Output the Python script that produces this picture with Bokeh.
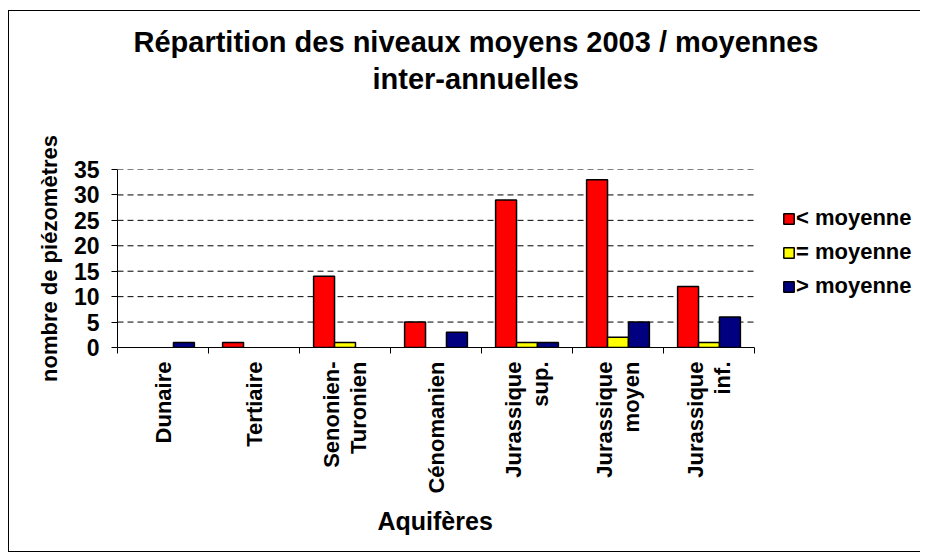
import math
from bokeh.plotting import figure
from bokeh.models import FixedTicker, Legend, LegendItem, ColumnDataSource, Title
from bokeh.embed import file_html
from bokeh.resources import INLINE

categories = ["Dunaire", "Tertiaire", "Senonien-\nTuronien", "Cénomanien",
              "Jurassique\nsup.", "Jurassique\nmoyen", "Jurassique\ninf."]
inf_moyenne = [0, 1, 14, 5, 29, 33, 12]
eq_moyenne = [0, 0, 1, 0, 1, 2, 1]
sup_moyenne = [1, 0, 0, 3, 1, 5, 6]
series_labels = ["< moyenne", "= moyenne", "> moyenne"]
series_colors = ["#FF0000", "#FFFF00", "#000080"]
y_ticks = [0, 5, 10, 15, 20, 25, 30, 35]
title_lines = ["Répartition des niveaux moyens 2003 / moyennes", "inter-annuelles"]
x_title = "Aquifères"
y_title = "nombre de piézomètres"

FONT = "Liberation Sans"
n = len(categories)
FRAME_W_PLOT = 637.0   # pixel width of the category area
FRAME_W = 804.0        # frame extends to the right edge (legend lives there)
x_end = n * FRAME_W / FRAME_W_PLOT

p = figure(width=912, height=542, x_range=(0, x_end), y_range=(0, 35),
           output_backend="svg", toolbar_location=None, title=None,
           min_border_left=108, min_border_right=0,
           min_border_top=158, min_border_bottom=206)
p.styles = {"border-top": "1px solid black", "border-left": "1px solid black",
            "border-bottom": "1px solid black",
            "margin-top": "10px", "margin-left": "8px"}

def mk_title(text, size, offset, standoff):
    return Title(text=text, align="left", offset=offset, standoff=standoff,
                 text_font=FONT, text_font_size=size, text_font_style="bold",
                 text_color="black")

# above panels: first added is nearest to the frame
p.add_layout(Title(text=" ", text_font_size="10px", standoff=60), "above")
p.add_layout(mk_title(title_lines[1], "29px", 255, 4), "above")
p.add_layout(mk_title(title_lines[0], "29px", 16, 2), "above")

p.outline_line_color = None
p.background_fill_color = "white"
p.border_fill_color = "white"

# dashed horizontal grid lines limited to the category area
grid_y = y_ticks[1:]
p.segment(x0=[0] * len(grid_y), x1=[n] * len(grid_y), y0=grid_y, y1=grid_y,
          line_color="black", line_width=1, line_dash="6 4")

bar_w = 0.23
items = []
for j, vals in enumerate([inf_moyenne, eq_moyenne, sup_moyenne]):
    xs = [i + 0.5 + (j - 1) * bar_w for i, v in enumerate(vals) if v > 0]
    tops = [v for v in vals if v > 0]
    src = ColumnDataSource(dict(x=xs, top=tops))
    r = p.vbar(x="x", top="top", width=bar_w, source=src,
               fill_color=series_colors[j], line_color="black", line_width=1.5)
    items.append(LegendItem(label=series_labels[j], renderers=[r]))

legend = Legend(items=items, location=(665, 48), orientation="vertical",
                border_line_color=None, background_fill_alpha=0,
                padding=0, margin=0, spacing=8,
                glyph_width=13, glyph_height=13, label_standoff=1,
                label_text_font=FONT, label_text_font_size="22px",
                label_text_font_style="bold", label_text_color="black")
p.add_layout(legend, "center")

# y axis
p.yaxis.ticker = FixedTicker(ticks=y_ticks)
p.yaxis.minor_tick_line_color = None
p.yaxis.major_tick_out = 6
p.yaxis.major_tick_in = 0
p.yaxis.axis_line_color = "black"
p.yaxis.major_tick_line_color = "black"
p.yaxis.major_label_text_font = FONT
p.yaxis.major_label_text_font_size = "23px"
p.yaxis.major_label_text_font_style = "bold"
p.yaxis.major_label_text_color = "black"
p.yaxis.major_label_standoff = 12
p.yaxis.axis_label = y_title
p.yaxis.axis_label_text_font = FONT
p.yaxis.axis_label_text_font_size = "22px"
p.yaxis.axis_label_text_font_style = "bold"
p.yaxis.axis_label_text_color = "black"
p.yaxis.axis_label_standoff = 9

# x axis
centers = [i + 0.5 for i in range(n)]
p.xaxis.bounds = (0, n)
p.xaxis.ticker = FixedTicker(ticks=centers, minor_ticks=list(range(n + 1)))
p.xaxis.major_label_overrides = {c: lab for c, lab in zip(centers, categories)}
p.xaxis.major_label_orientation = math.pi / 2
p.xaxis.major_tick_out = 0
p.xaxis.major_tick_in = 0
p.xaxis.minor_tick_out = 6
p.xaxis.minor_tick_in = 0
p.xaxis.minor_tick_line_color = "black"
p.xaxis.axis_line_color = "black"
p.xaxis.major_label_text_font = FONT
p.xaxis.major_label_text_font_size = "22px"
p.xaxis.major_label_text_font_style = "bold"
p.xaxis.major_label_text_color = "black"
p.xaxis.major_label_text_line_height = 1.05
p.xaxis.major_label_standoff = 8

# x axis title as a title below the axis, placed under the category area
p.add_layout(mk_title(x_title, "25px", 260, 16), "below")

p.xgrid.grid_line_color = None
p.ygrid.grid_line_color = None

open("out.html", "w").write(file_html(p, INLINE))
